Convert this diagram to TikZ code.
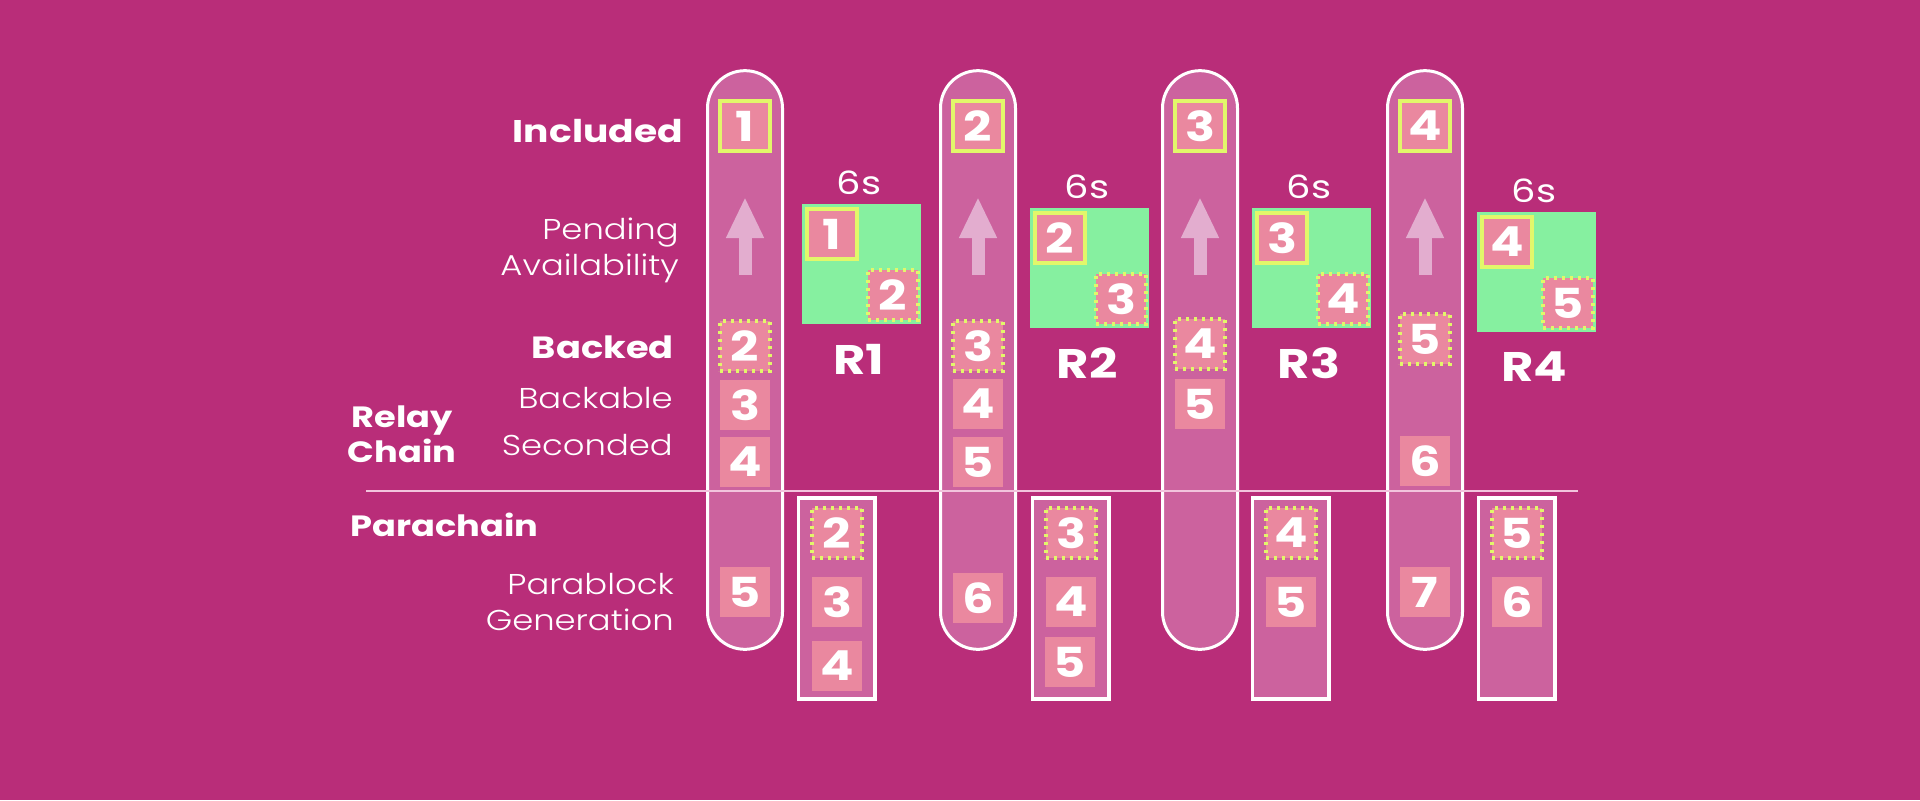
\documentclass[tikz,border=0pt]{standalone}
\usepackage{fontspec}
\setmainfont{Poppins}[FakeStretch=1.2]
\newfontfamily\lightfont{Poppins Light}[FakeStretch=1.18]
\usetikzlibrary{arrows.meta}

\definecolor{bgmag}{HTML}{B92D79}
\definecolor{pillfill}{HTML}{CC629E}
\definecolor{blkpink}{HTML}{EA889F}
\definecolor{slotgreen}{HTML}{86F0A0}
\definecolor{lime}{HTML}{E2F76A}
\definecolor{arrpink}{HTML}{E3ADCF}
\definecolor{seppink}{HTML}{F2C4DD}

\tikzset{
    blk/.style={fill=blkpink, text=white, minimum size=37.5pt, inner sep=0pt,
        font=\bfseries\fontsize{31}{31}\selectfont},
    inc/.style={blk, draw=lime, line width=3pt},
    bkd/.style={blk, draw=lime, line width=2.6pt, dash pattern=on 2.6pt off 3.4pt},
    pill/.style={fill=pillfill, draw=white, line width=2.25pt, inner sep=0pt,
        minimum width=56.25pt, minimum height=434pt, rounded corners=28.1pt},
    prect/.style={fill=pillfill, draw=white, line width=2.6pt, inner sep=0pt,
        minimum width=57.4pt, minimum height=151pt},
    slot/.style={fill=slotgreen, inner sep=0pt, minimum width=89.25pt, minimum height=90pt},
    uparr/.style={draw=arrpink, line width=9.75pt, -{Triangle[width=26.25pt, length=30.75pt]}},
    sepline/.style={draw=seppink, line width=1pt},
    secs/.style={text=white, inner sep=0pt, font=\fontsize{24}{24}\selectfont},
    rlbl/.style={text=white, inner sep=0pt, font=\bfseries\fontsize{31}{31}\selectfont},
    lbl/.style={text=white, inner sep=0pt, align=right, font=\lightfont\fontsize{21.5}{27}\selectfont},
    lblb/.style={text=white, inner sep=0pt, font=\bfseries\fontsize{23}{26}\selectfont},
}

\begin{document}
\begin{tikzpicture}[x=0.75pt, y=-0.75pt]
    \fill[bgmag] (0,0) rectangle (1920,800);

    % slots of the relay chain
    \foreach \c/\p in {1/745, 2/978, 3/1200, 4/1425}
        \node[pill] (pill\c) at (\p,360) {};

    \coordinate (sepL) at (366,491);
    \coordinate (sepR) at (1578,491);
    \draw[sepline] (sepL) -- (sepR);

    \foreach \c/\p/\b/\g/\t/\r in {1/745/346/802/204/797, 2/978/346/1030/208/1031,
                                 3/1200/344/1252/208/1251, 4/1425/339/1477/212/1477}{
        \pgfmathtruncatemacro{\n}{\c+1}
        \pgfmathtruncatemacro{\m}{\c+2}
        \node[inc] (inc\c) at (\p,126) {\c};
        \coordinate (arrS\c) at (\p,275);
        \coordinate (arrE\c) at (\p,197);
        \draw[uparr] (arrS\c) -- (arrE\c);
        \node[bkd] (bkd\c) at (\p,\b) {\n};
        % availability window
        \node[slot] (grn\c) at (\g+59.5,\t+60) {};
        \node[inc] (grnA\c) at (\g+30,\t+30) {\c};
        \node[bkd] (grnB\c) at (\g+91,\t+91) {\n};
        \node[secs] (secs\c) at (\g+57,\t-21) {6s};
        \node[rlbl] (R\c) at (\g+57,\t+155) {R\c};
        % parachain side
        \node[prect] (para\c) at (\r+39.5,598.5) {};
        \node[bkd] (paraA\c) at (\r+40,533) {\n};
        \node[blk] (paraB\c) at (\r+40,602) {\m};
    }

    \node[blk] (bkbl1) at (745,405) {3};
    \node[blk] (scnd1) at (745,462) {4};
    \node[blk] (gen1) at (745,592) {5};
    \node[blk] (paraC1) at (837,666) {4};

    \node[blk] (bkbl2) at (978,404) {4};
    \node[blk] (scnd2) at (978,462) {5};
    \node[blk] (gen2) at (978,598) {6};
    \node[blk] (paraC2) at (1070,662) {5};

    \node[blk] (bkbl3) at (1200,404) {5};

    \node[blk] (scnd4) at (1425,461) {6};
    \node[blk] (gen4) at (1425,592) {7};

    % row labels
    \node[lblb, anchor=base east, font=\bfseries\fontsize{23.5}{26}\selectfont] (included) at (683,142) {Included};
    \node[lbl, anchor=east] (pending) at (679,250) {Pending\\Availability};
    \node[lblb, anchor=base east] (backed) at (674,358) {Backed};
    \node[lbl, anchor=base east] (backable) at (673,408) {Backable};
    \node[lbl, anchor=base east] (seconded) at (673,455) {Seconded};
    \node[lblb, align=center, anchor=center, font=\bfseries\fontsize{22}{26}\selectfont] (relay) at (402,434) {Relay\\Chain};
    \node[lblb, anchor=base west, font=\bfseries\fontsize{22}{26}\selectfont] (parachain) at (350,536) {Parachain};
    \node[lbl, anchor=east] (parablock) at (674,602) {Parablock\\Generation};
\end{tikzpicture}
\end{document}
